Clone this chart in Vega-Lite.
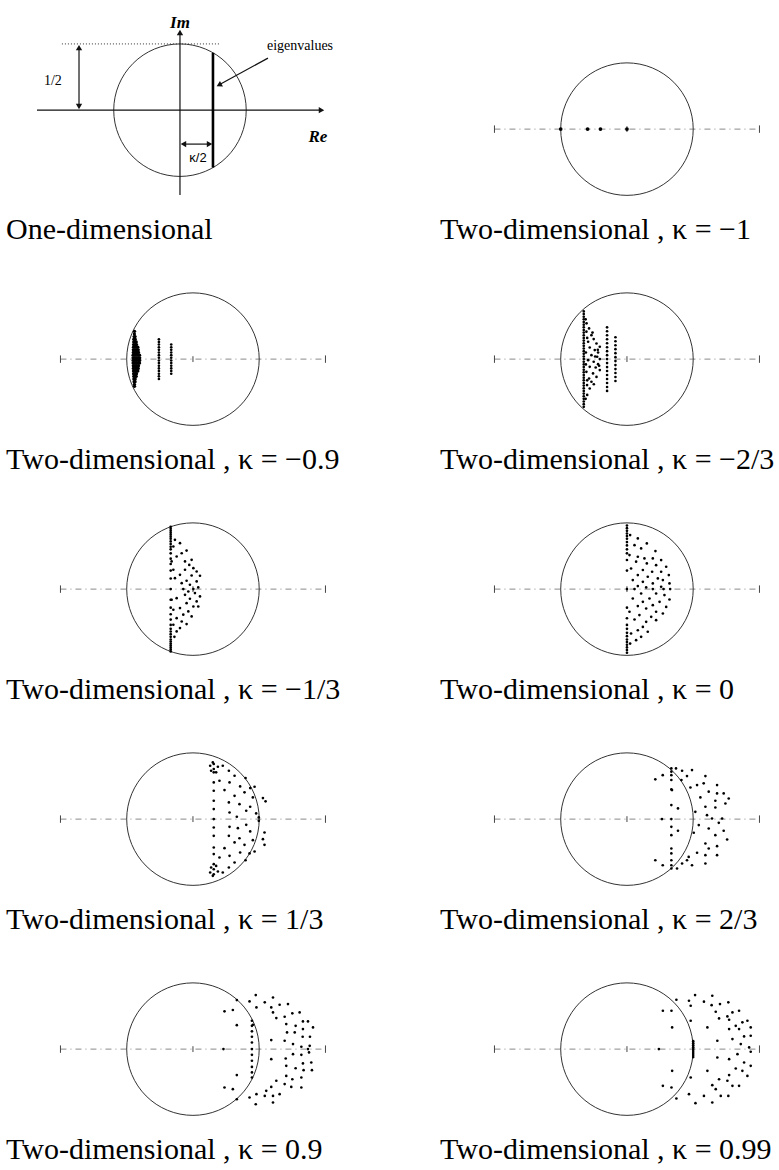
{
"$schema":"https://vega.github.io/schema/vega-lite/v6.json",
"padding":{"left":6,"top":14,"right":0,"bottom":0},
"background":"white",
"data":{"values":[
{"panel":"a","kind":"circle","x":-0.098,"y":0.143},
{"panel":"a","kind":"hsolid","x":-1.177,"x2":0.97,"y":0.143},
{"panel":"a","kind":"vsolid","x":-0.098,"y":-0.498,"y2":0.735},
{"panel":"a","kind":"hdot","x":-0.989,"x2":0.204,"y":0.643},
{"panel":"a","kind":"vsolid","x":-0.86,"y":0.165,"y2":0.62},
{"panel":"a","kind":"hsolid","x":-0.08,"x2":0.133,"y":-0.113},
{"panel":"a","kind":"vthick","x":0.151,"y":-0.29,"y2":0.576},
{"panel":"a","kind":"diag","x":0.566,"y":0.536,"x2":0.205,"y2":0.338},
{"panel":"a","kind":"head","dir":"up","x":-0.098,"y":0.73},
{"panel":"a","kind":"head","dir":"up","x":-0.86,"y":0.615},
{"panel":"a","kind":"head","dir":"down","x":-0.86,"y":0.171},
{"panel":"a","kind":"head","dir":"left","x":-0.072,"y":-0.113},
{"panel":"a","kind":"head","dir":"right","x":0.125,"y":-0.113},
{"panel":"a","kind":"head","dir":"right","x":0.97,"y":0.143},
{"panel":"a","kind":"headdiag","x":0.197,"y":0.333},
{"panel":"a","kind":"textbi","label":"Im","x":-0.098,"y":0.8},
{"panel":"a","kind":"textbi","label":"Re","x":0.943,"y":-0.06},
{"panel":"a","kind":"text","label":"1/2","x":-1.057,"y":0.362},
{"panel":"a","kind":"textsans","label":"κ/2","x":0.038,"y":-0.219},
{"panel":"a","kind":"text","label":"eigenvalues","x":0.808,"y":0.626},

{"panel":"b","kind":"circle","x":0,"y":0},{"panel":"b","kind":"axis","x":-1,"x2":1,"y":0},{"panel":"b","kind":"tick","x":-1,"y":-0.028,"y2":0.028},{"panel":"b","kind":"tick","x":1,"y":-0.028,"y2":0.028},{"panel":"b","kind":"tick","x":0,"y":-0.022,"y2":0.022},
{"panel":"c","kind":"circle","x":0,"y":0},{"panel":"c","kind":"axis","x":-1,"x2":1,"y":0},{"panel":"c","kind":"tick","x":-1,"y":-0.028,"y2":0.028},{"panel":"c","kind":"tick","x":1,"y":-0.028,"y2":0.028},{"panel":"c","kind":"tick","x":0,"y":-0.022,"y2":0.022},
{"panel":"d","kind":"circle","x":0,"y":0},{"panel":"d","kind":"axis","x":-1,"x2":1,"y":0},{"panel":"d","kind":"tick","x":-1,"y":-0.028,"y2":0.028},{"panel":"d","kind":"tick","x":1,"y":-0.028,"y2":0.028},{"panel":"d","kind":"tick","x":0,"y":-0.022,"y2":0.022},
{"panel":"e","kind":"circle","x":0,"y":0},{"panel":"e","kind":"axis","x":-1,"x2":1,"y":0},{"panel":"e","kind":"tick","x":-1,"y":-0.028,"y2":0.028},{"panel":"e","kind":"tick","x":1,"y":-0.028,"y2":0.028},{"panel":"e","kind":"tick","x":0,"y":-0.022,"y2":0.022},
{"panel":"f","kind":"circle","x":0,"y":0},{"panel":"f","kind":"axis","x":-1,"x2":1,"y":0},{"panel":"f","kind":"tick","x":-1,"y":-0.028,"y2":0.028},{"panel":"f","kind":"tick","x":1,"y":-0.028,"y2":0.028},{"panel":"f","kind":"tick","x":0,"y":-0.022,"y2":0.022},
{"panel":"g","kind":"circle","x":0,"y":0},{"panel":"g","kind":"axis","x":-1,"x2":1,"y":0},{"panel":"g","kind":"tick","x":-1,"y":-0.028,"y2":0.028},{"panel":"g","kind":"tick","x":1,"y":-0.028,"y2":0.028},{"panel":"g","kind":"tick","x":0,"y":-0.022,"y2":0.022},
{"panel":"h","kind":"circle","x":0,"y":0},{"panel":"h","kind":"axis","x":-1,"x2":1,"y":0},{"panel":"h","kind":"tick","x":-1,"y":-0.028,"y2":0.028},{"panel":"h","kind":"tick","x":1,"y":-0.028,"y2":0.028},{"panel":"h","kind":"tick","x":0,"y":-0.022,"y2":0.022},
{"panel":"i","kind":"circle","x":0,"y":0},{"panel":"i","kind":"axis","x":-1,"x2":1,"y":0},{"panel":"i","kind":"tick","x":-1,"y":-0.028,"y2":0.028},{"panel":"i","kind":"tick","x":1,"y":-0.028,"y2":0.028},{"panel":"i","kind":"tick","x":0,"y":-0.022,"y2":0.022},
{"panel":"j","kind":"circle","x":0,"y":0},{"panel":"j","kind":"axis","x":-1,"x2":1,"y":0},{"panel":"j","kind":"tick","x":-1,"y":-0.028,"y2":0.028},{"panel":"j","kind":"tick","x":1,"y":-0.028,"y2":0.028},{"panel":"j","kind":"tick","x":0,"y":-0.022,"y2":0.022},

{"panel":"b","kind":"bigpt","x":-0.5,"y":0},{"panel":"b","kind":"bigpt","x":-0.297,"y":0},{"panel":"b","kind":"bigpt","x":-0.2,"y":0},{"panel":"b","kind":"bigpt","x":0,"y":0},

{"panel":"c","kind":"blob","x":-0.452,"y":0.01},{"panel":"c","kind":"blob","x":-0.44,"y":0.01},{"panel":"c","kind":"blob","x":-0.427,"y":0.01},{"panel":"c","kind":"blob","x":-0.414,"y":0.01},{"panel":"c","kind":"blob","x":-0.402,"y":0.01},
{"panel":"c","kind":"blob","x":-0.452,"y":-0.01},{"panel":"c","kind":"blob","x":-0.44,"y":-0.01},{"panel":"c","kind":"blob","x":-0.427,"y":-0.01},{"panel":"c","kind":"blob","x":-0.414,"y":-0.01},{"panel":"c","kind":"blob","x":-0.402,"y":-0.01},
{"panel":"c","kind":"blob","x":-0.452,"y":0.03},{"panel":"c","kind":"blob","x":-0.44,"y":0.03},{"panel":"c","kind":"blob","x":-0.427,"y":0.03},{"panel":"c","kind":"blob","x":-0.414,"y":0.03},{"panel":"c","kind":"blob","x":-0.403,"y":0.03},
{"panel":"c","kind":"blob","x":-0.452,"y":-0.03},{"panel":"c","kind":"blob","x":-0.44,"y":-0.03},{"panel":"c","kind":"blob","x":-0.427,"y":-0.03},{"panel":"c","kind":"blob","x":-0.414,"y":-0.03},{"panel":"c","kind":"blob","x":-0.403,"y":-0.03},
{"panel":"c","kind":"blob","x":-0.45,"y":0.05},{"panel":"c","kind":"blob","x":-0.437,"y":0.05},{"panel":"c","kind":"blob","x":-0.424,"y":0.05},{"panel":"c","kind":"blob","x":-0.411,"y":0.05},
{"panel":"c","kind":"blob","x":-0.45,"y":-0.05},{"panel":"c","kind":"blob","x":-0.437,"y":-0.05},{"panel":"c","kind":"blob","x":-0.424,"y":-0.05},{"panel":"c","kind":"blob","x":-0.411,"y":-0.05},
{"panel":"c","kind":"blob","x":-0.45,"y":0.07},{"panel":"c","kind":"blob","x":-0.437,"y":0.07},{"panel":"c","kind":"blob","x":-0.424,"y":0.07},{"panel":"c","kind":"blob","x":-0.413,"y":0.07},
{"panel":"c","kind":"blob","x":-0.45,"y":-0.07},{"panel":"c","kind":"blob","x":-0.437,"y":-0.07},{"panel":"c","kind":"blob","x":-0.424,"y":-0.07},{"panel":"c","kind":"blob","x":-0.413,"y":-0.07},
{"panel":"c","kind":"blob","x":-0.449,"y":0.09},{"panel":"c","kind":"blob","x":-0.437,"y":0.09},{"panel":"c","kind":"blob","x":-0.425,"y":0.09},{"panel":"c","kind":"blob","x":-0.416,"y":0.09},
{"panel":"c","kind":"blob","x":-0.449,"y":-0.09},{"panel":"c","kind":"blob","x":-0.437,"y":-0.09},{"panel":"c","kind":"blob","x":-0.425,"y":-0.09},{"panel":"c","kind":"blob","x":-0.416,"y":-0.09},
{"panel":"c","kind":"blob","x":-0.448,"y":0.11},{"panel":"c","kind":"blob","x":-0.436,"y":0.11},{"panel":"c","kind":"blob","x":-0.426,"y":0.11},
{"panel":"c","kind":"blob","x":-0.448,"y":-0.11},{"panel":"c","kind":"blob","x":-0.436,"y":-0.11},{"panel":"c","kind":"blob","x":-0.426,"y":-0.11},
{"panel":"c","kind":"blob","x":-0.447,"y":0.13},{"panel":"c","kind":"blob","x":-0.436,"y":0.13},{"panel":"c","kind":"blob","x":-0.428,"y":0.13},
{"panel":"c","kind":"blob","x":-0.447,"y":-0.13},{"panel":"c","kind":"blob","x":-0.436,"y":-0.13},{"panel":"c","kind":"blob","x":-0.428,"y":-0.13},
{"panel":"c","kind":"blob","x":-0.446,"y":0.15},{"panel":"c","kind":"blob","x":-0.436,"y":0.15},
{"panel":"c","kind":"blob","x":-0.446,"y":-0.15},{"panel":"c","kind":"blob","x":-0.436,"y":-0.15},
{"panel":"c","kind":"blob","x":-0.444,"y":0.17},{"panel":"c","kind":"blob","x":-0.437,"y":0.17},
{"panel":"c","kind":"blob","x":-0.444,"y":-0.17},{"panel":"c","kind":"blob","x":-0.437,"y":-0.17},
{"panel":"c","kind":"blob","x":-0.442,"y":0.19},{"panel":"c","kind":"blob","x":-0.442,"y":-0.19},
{"panel":"c","kind":"blob","x":-0.441,"y":0.21},{"panel":"c","kind":"blob","x":-0.441,"y":-0.205},
{"panel":"c","kind":"pt","x":-0.257,"y":-0.15},{"panel":"c","kind":"pt","x":-0.257,"y":-0.13},{"panel":"c","kind":"pt","x":-0.257,"y":-0.11},{"panel":"c","kind":"pt","x":-0.257,"y":-0.09},{"panel":"c","kind":"pt","x":-0.257,"y":-0.07},{"panel":"c","kind":"pt","x":-0.257,"y":-0.05},{"panel":"c","kind":"pt","x":-0.257,"y":-0.03},{"panel":"c","kind":"pt","x":-0.257,"y":-0.01},{"panel":"c","kind":"pt","x":-0.257,"y":0.01},{"panel":"c","kind":"pt","x":-0.257,"y":0.03},{"panel":"c","kind":"pt","x":-0.257,"y":0.05},{"panel":"c","kind":"pt","x":-0.257,"y":0.07},{"panel":"c","kind":"pt","x":-0.257,"y":0.09},{"panel":"c","kind":"pt","x":-0.257,"y":0.11},{"panel":"c","kind":"pt","x":-0.257,"y":0.13},{"panel":"c","kind":"pt","x":-0.257,"y":0.15},
{"panel":"c","kind":"pt","x":-0.164,"y":-0.11},{"panel":"c","kind":"pt","x":-0.164,"y":-0.09},{"panel":"c","kind":"pt","x":-0.164,"y":-0.07},{"panel":"c","kind":"pt","x":-0.164,"y":-0.05},{"panel":"c","kind":"pt","x":-0.164,"y":-0.03},{"panel":"c","kind":"pt","x":-0.164,"y":-0.01},{"panel":"c","kind":"pt","x":-0.164,"y":0.01},{"panel":"c","kind":"pt","x":-0.164,"y":0.03},{"panel":"c","kind":"pt","x":-0.164,"y":0.05},{"panel":"c","kind":"pt","x":-0.164,"y":0.07},{"panel":"c","kind":"pt","x":-0.164,"y":0.09},{"panel":"c","kind":"pt","x":-0.164,"y":0.11},

{"panel":"d","kind":"pt","x":-0.326,"y":-0.36},{"panel":"d","kind":"pt","x":-0.326,"y":-0.34},{"panel":"d","kind":"pt","x":-0.326,"y":-0.32},{"panel":"d","kind":"pt","x":-0.326,"y":-0.3},{"panel":"d","kind":"pt","x":-0.326,"y":-0.28},{"panel":"d","kind":"pt","x":-0.326,"y":-0.26},{"panel":"d","kind":"pt","x":-0.326,"y":-0.24},{"panel":"d","kind":"pt","x":-0.326,"y":-0.22},{"panel":"d","kind":"pt","x":-0.326,"y":-0.2},{"panel":"d","kind":"pt","x":-0.326,"y":-0.18},{"panel":"d","kind":"pt","x":-0.326,"y":-0.16},{"panel":"d","kind":"pt","x":-0.326,"y":-0.14},{"panel":"d","kind":"pt","x":-0.326,"y":-0.12},{"panel":"d","kind":"pt","x":-0.326,"y":-0.1},{"panel":"d","kind":"pt","x":-0.326,"y":-0.08},{"panel":"d","kind":"pt","x":-0.326,"y":-0.06},{"panel":"d","kind":"pt","x":-0.326,"y":-0.04},{"panel":"d","kind":"pt","x":-0.326,"y":-0.02},{"panel":"d","kind":"pt","x":-0.326,"y":0},{"panel":"d","kind":"pt","x":-0.326,"y":0.02},{"panel":"d","kind":"pt","x":-0.326,"y":0.04},{"panel":"d","kind":"pt","x":-0.326,"y":0.06},{"panel":"d","kind":"pt","x":-0.326,"y":0.08},{"panel":"d","kind":"pt","x":-0.326,"y":0.1},{"panel":"d","kind":"pt","x":-0.326,"y":0.12},{"panel":"d","kind":"pt","x":-0.326,"y":0.14},{"panel":"d","kind":"pt","x":-0.326,"y":0.16},{"panel":"d","kind":"pt","x":-0.326,"y":0.18},{"panel":"d","kind":"pt","x":-0.326,"y":0.2},{"panel":"d","kind":"pt","x":-0.326,"y":0.22},{"panel":"d","kind":"pt","x":-0.326,"y":0.24},{"panel":"d","kind":"pt","x":-0.326,"y":0.26},{"panel":"d","kind":"pt","x":-0.326,"y":0.28},{"panel":"d","kind":"pt","x":-0.326,"y":0.3},{"panel":"d","kind":"pt","x":-0.326,"y":0.32},{"panel":"d","kind":"pt","x":-0.326,"y":0.34},{"panel":"d","kind":"pt","x":-0.326,"y":0.36},
{"panel":"d","kind":"pt","x":-0.286,"y":0.232},{"panel":"d","kind":"pt","x":-0.306,"y":0.207},{"panel":"d","kind":"pt","x":-0.268,"y":0.181},{"panel":"d","kind":"pt","x":-0.251,"y":0.151},{"panel":"d","kind":"pt","x":-0.293,"y":0.131},{"panel":"d","kind":"pt","x":-0.23,"y":0.118},{"panel":"d","kind":"pt","x":-0.205,"y":0.093},{"panel":"d","kind":"pt","x":-0.281,"y":0.088},{"panel":"d","kind":"pt","x":-0.243,"y":0.068},{"panel":"d","kind":"pt","x":-0.218,"y":0.05},{"panel":"d","kind":"pt","x":-0.268,"y":0.03},{"panel":"d","kind":"pt","x":-0.225,"y":0.018},{"panel":"d","kind":"pt","x":-0.205,"y":0},{"panel":"d","kind":"pt","x":-0.293,"y":-0.008},{"panel":"d","kind":"pt","x":-0.251,"y":-0.02},{"panel":"d","kind":"pt","x":-0.218,"y":-0.038},{"panel":"d","kind":"pt","x":-0.281,"y":-0.058},{"panel":"d","kind":"pt","x":-0.236,"y":-0.063},{"panel":"d","kind":"pt","x":-0.205,"y":-0.083},{"panel":"d","kind":"pt","x":-0.306,"y":-0.096},{"panel":"d","kind":"pt","x":-0.256,"y":-0.108},{"panel":"d","kind":"pt","x":-0.23,"y":-0.134},{"panel":"d","kind":"pt","x":-0.286,"y":-0.146},{"panel":"d","kind":"pt","x":-0.268,"y":-0.171},{"panel":"d","kind":"pt","x":-0.301,"y":-0.196},{"panel":"d","kind":"pt","x":-0.281,"y":-0.222},
{"panel":"d","kind":"pt","x":-0.3,"y":0.16},{"panel":"d","kind":"pt","x":-0.31,"y":0.05},{"panel":"d","kind":"pt","x":-0.31,"y":-0.04},{"panel":"d","kind":"pt","x":-0.3,"y":-0.16},{"panel":"d","kind":"pt","x":-0.26,"y":0.2},{"panel":"d","kind":"pt","x":-0.25,"y":-0.19},{"panel":"d","kind":"pt","x":-0.24,"y":0.02},{"panel":"d","kind":"pt","x":-0.22,"y":0.07},{"panel":"d","kind":"pt","x":-0.21,"y":-0.05},{"panel":"d","kind":"pt","x":-0.305,"y":0.27},{"panel":"d","kind":"pt","x":-0.3,"y":-0.27},{"panel":"d","kind":"pt","x":-0.312,"y":0.3},{"panel":"d","kind":"pt","x":-0.312,"y":-0.3},
{"panel":"d","kind":"pt","x":-0.15,"y":-0.24},{"panel":"d","kind":"pt","x":-0.15,"y":-0.21},{"panel":"d","kind":"pt","x":-0.15,"y":-0.18},{"panel":"d","kind":"pt","x":-0.15,"y":-0.15},{"panel":"d","kind":"pt","x":-0.15,"y":-0.12},{"panel":"d","kind":"pt","x":-0.15,"y":-0.09},{"panel":"d","kind":"pt","x":-0.15,"y":-0.06},{"panel":"d","kind":"pt","x":-0.15,"y":-0.03},{"panel":"d","kind":"pt","x":-0.15,"y":0},{"panel":"d","kind":"pt","x":-0.15,"y":0.03},{"panel":"d","kind":"pt","x":-0.15,"y":0.06},{"panel":"d","kind":"pt","x":-0.15,"y":0.09},{"panel":"d","kind":"pt","x":-0.15,"y":0.12},{"panel":"d","kind":"pt","x":-0.15,"y":0.15},{"panel":"d","kind":"pt","x":-0.15,"y":0.18},{"panel":"d","kind":"pt","x":-0.15,"y":0.21},{"panel":"d","kind":"pt","x":-0.15,"y":0.24},
{"panel":"d","kind":"pt","x":-0.087,"y":-0.165},{"panel":"d","kind":"pt","x":-0.087,"y":-0.135},{"panel":"d","kind":"pt","x":-0.087,"y":-0.105},{"panel":"d","kind":"pt","x":-0.087,"y":-0.075},{"panel":"d","kind":"pt","x":-0.087,"y":-0.045},{"panel":"d","kind":"pt","x":-0.087,"y":-0.015},{"panel":"d","kind":"pt","x":-0.087,"y":0.015},{"panel":"d","kind":"pt","x":-0.087,"y":0.045},{"panel":"d","kind":"pt","x":-0.087,"y":0.075},{"panel":"d","kind":"pt","x":-0.087,"y":0.105},{"panel":"d","kind":"pt","x":-0.087,"y":0.135},{"panel":"d","kind":"pt","x":-0.087,"y":0.165},

{"panel":"e","kind":"pt","x":-0.168,"y":0.47},{"panel":"e","kind":"pt","x":-0.168,"y":0.455},{"panel":"e","kind":"pt","x":-0.168,"y":0.44},{"panel":"e","kind":"pt","x":-0.168,"y":0.425},{"panel":"e","kind":"pt","x":-0.168,"y":0.41},{"panel":"e","kind":"pt","x":-0.168,"y":0.395},{"panel":"e","kind":"pt","x":-0.168,"y":0.38},{"panel":"e","kind":"pt","x":-0.168,"y":0.36},{"panel":"e","kind":"pt","x":-0.168,"y":0.34},{"panel":"e","kind":"pt","x":-0.168,"y":0.32},{"panel":"e","kind":"pt","x":-0.168,"y":0.3},{"panel":"e","kind":"pt","x":-0.168,"y":0.27},{"panel":"e","kind":"pt","x":-0.168,"y":0.23},{"panel":"e","kind":"pt","x":-0.168,"y":0.19},{"panel":"e","kind":"pt","x":-0.168,"y":0.14},{"panel":"e","kind":"pt","x":-0.168,"y":0.08},{"panel":"e","kind":"pt","x":-0.168,"y":0},
{"panel":"e","kind":"pt","x":-0.168,"y":-0.47},{"panel":"e","kind":"pt","x":-0.168,"y":-0.455},{"panel":"e","kind":"pt","x":-0.168,"y":-0.44},{"panel":"e","kind":"pt","x":-0.168,"y":-0.425},{"panel":"e","kind":"pt","x":-0.168,"y":-0.41},{"panel":"e","kind":"pt","x":-0.168,"y":-0.395},{"panel":"e","kind":"pt","x":-0.168,"y":-0.38},{"panel":"e","kind":"pt","x":-0.168,"y":-0.36},{"panel":"e","kind":"pt","x":-0.168,"y":-0.34},{"panel":"e","kind":"pt","x":-0.168,"y":-0.32},{"panel":"e","kind":"pt","x":-0.168,"y":-0.3},{"panel":"e","kind":"pt","x":-0.168,"y":-0.27},{"panel":"e","kind":"pt","x":-0.168,"y":-0.23},{"panel":"e","kind":"pt","x":-0.168,"y":-0.19},{"panel":"e","kind":"pt","x":-0.168,"y":-0.14},{"panel":"e","kind":"pt","x":-0.168,"y":-0.08},
{"panel":"e","kind":"pt","x":-0.098,"y":0.347},{"panel":"e","kind":"pt","x":-0.148,"y":0.322},{"panel":"e","kind":"pt","x":-0.048,"y":0.291},{"panel":"e","kind":"pt","x":-0.085,"y":0.271},{"panel":"e","kind":"pt","x":-0.123,"y":0.246},{"panel":"e","kind":"pt","x":-0.01,"y":0.221},{"panel":"e","kind":"pt","x":-0.161,"y":0.209},{"panel":"e","kind":"pt","x":-0.06,"y":0.209},{"panel":"e","kind":"pt","x":-0.028,"y":0.183},{"panel":"e","kind":"pt","x":0.003,"y":0.158},{"panel":"e","kind":"pt","x":-0.148,"y":0.146},{"panel":"e","kind":"pt","x":-0.06,"y":0.146},{"panel":"e","kind":"pt","x":0.028,"y":0.133},{"panel":"e","kind":"pt","x":-0.098,"y":0.108},{"panel":"e","kind":"pt","x":-0.01,"y":0.103},{"panel":"e","kind":"pt","x":0.053,"y":0.101},{"panel":"e","kind":"pt","x":-0.136,"y":0.083},{"panel":"e","kind":"pt","x":-0.048,"y":0.063},{"panel":"e","kind":"pt","x":0.028,"y":0.058},{"panel":"e","kind":"pt","x":-0.085,"y":0.045},{"panel":"e","kind":"pt","x":-0.023,"y":0.033},{"panel":"e","kind":"pt","x":0.04,"y":0.013},{"panel":"e","kind":"pt","x":-0.073,"y":0},{"panel":"e","kind":"pt","x":0.003,"y":0},{"panel":"e","kind":"pt","x":-0.035,"y":-0.018},{"panel":"e","kind":"pt","x":0.015,"y":-0.03},{"panel":"e","kind":"pt","x":-0.06,"y":-0.043},{"panel":"e","kind":"pt","x":0.053,"y":-0.055},{"panel":"e","kind":"pt","x":-0.123,"y":-0.068},{"panel":"e","kind":"pt","x":-0.023,"y":-0.073},{"panel":"e","kind":"pt","x":0.028,"y":-0.093},{"panel":"e","kind":"pt","x":-0.161,"y":-0.08},{"panel":"e","kind":"pt","x":-0.048,"y":-0.106},{"panel":"e","kind":"pt","x":0.003,"y":-0.131},{"panel":"e","kind":"pt","x":-0.098,"y":-0.143},{"panel":"e","kind":"pt","x":0.04,"y":-0.131},{"panel":"e","kind":"pt","x":-0.148,"y":-0.156},{"panel":"e","kind":"pt","x":-0.035,"y":-0.168},{"panel":"e","kind":"pt","x":-0.073,"y":-0.193},{"panel":"e","kind":"pt","x":-0.01,"y":-0.206},{"panel":"e","kind":"pt","x":-0.123,"y":-0.219},{"panel":"e","kind":"pt","x":-0.085,"y":-0.244},{"panel":"e","kind":"pt","x":-0.048,"y":-0.264},{"panel":"e","kind":"pt","x":-0.148,"y":-0.269},{"panel":"e","kind":"pt","x":-0.098,"y":-0.294},{"panel":"e","kind":"pt","x":-0.123,"y":-0.319},{"panel":"e","kind":"pt","x":-0.136,"y":0.372},{"panel":"e","kind":"pt","x":-0.14,"y":-0.36},

{"panel":"f","kind":"pt","x":0,"y":0.48},{"panel":"f","kind":"pt","x":0,"y":0.46},{"panel":"f","kind":"pt","x":0,"y":0.44},{"panel":"f","kind":"pt","x":0,"y":0.42},{"panel":"f","kind":"pt","x":0,"y":0.4},{"panel":"f","kind":"pt","x":0,"y":0.38},{"panel":"f","kind":"pt","x":0,"y":0.355},{"panel":"f","kind":"pt","x":0,"y":0.33},{"panel":"f","kind":"pt","x":0,"y":0.3},{"panel":"f","kind":"pt","x":0,"y":0.27},{"panel":"f","kind":"pt","x":0,"y":0.22},{"panel":"f","kind":"pt","x":0,"y":0.14},{"panel":"f","kind":"pt","x":0,"y":0},
{"panel":"f","kind":"pt","x":0,"y":-0.48},{"panel":"f","kind":"pt","x":0,"y":-0.46},{"panel":"f","kind":"pt","x":0,"y":-0.44},{"panel":"f","kind":"pt","x":0,"y":-0.42},{"panel":"f","kind":"pt","x":0,"y":-0.4},{"panel":"f","kind":"pt","x":0,"y":-0.38},{"panel":"f","kind":"pt","x":0,"y":-0.355},{"panel":"f","kind":"pt","x":0,"y":-0.33},{"panel":"f","kind":"pt","x":0,"y":-0.3},{"panel":"f","kind":"pt","x":0,"y":-0.27},{"panel":"f","kind":"pt","x":0,"y":-0.22},{"panel":"f","kind":"pt","x":0,"y":-0.14},
{"panel":"f","kind":"pt","x":0.024,"y":0.408},{"panel":"f","kind":"pt","x":0.082,"y":0.383},{"panel":"f","kind":"pt","x":0.15,"y":0.345},{"panel":"f","kind":"pt","x":0.057,"y":0.332},{"panel":"f","kind":"pt","x":0.107,"y":0.307},{"panel":"f","kind":"pt","x":0.215,"y":0.287},{"panel":"f","kind":"pt","x":0.019,"y":0.257},{"panel":"f","kind":"pt","x":0.082,"y":0.244},{"panel":"f","kind":"pt","x":0.132,"y":0.232},{"panel":"f","kind":"pt","x":0.195,"y":0.232},{"panel":"f","kind":"pt","x":0.258,"y":0.219},{"panel":"f","kind":"pt","x":0.069,"y":0.207},{"panel":"f","kind":"pt","x":0.15,"y":0.194},{"panel":"f","kind":"pt","x":0.22,"y":0.181},{"panel":"f","kind":"pt","x":0.031,"y":0.156},{"panel":"f","kind":"pt","x":0.12,"y":0.144},{"panel":"f","kind":"pt","x":0.296,"y":0.169},{"panel":"f","kind":"pt","x":0.19,"y":0.131},{"panel":"f","kind":"pt","x":0.258,"y":0.131},{"panel":"f","kind":"pt","x":0.082,"y":0.106},{"panel":"f","kind":"pt","x":0.316,"y":0.106},{"panel":"f","kind":"pt","x":0.157,"y":0.093},{"panel":"f","kind":"pt","x":0.233,"y":0.081},{"panel":"f","kind":"pt","x":0.044,"y":0.068},{"panel":"f","kind":"pt","x":0.271,"y":0.068},{"panel":"f","kind":"pt","x":0.12,"y":0.055},{"panel":"f","kind":"pt","x":0.195,"y":0.043},{"panel":"f","kind":"pt","x":0.321,"y":0.043},{"panel":"f","kind":"pt","x":0.082,"y":0.023},{"panel":"f","kind":"pt","x":0.258,"y":0.018},{"panel":"f","kind":"pt","x":0.145,"y":0.013},{"panel":"f","kind":"pt","x":0.057,"y":0},{"panel":"f","kind":"pt","x":0.195,"y":0},{"panel":"f","kind":"pt","x":0.276,"y":0},{"panel":"f","kind":"pt","x":0.326,"y":0},{"panel":"f","kind":"pt","x":0.107,"y":-0.033},{"panel":"f","kind":"pt","x":0.22,"y":-0.033},{"panel":"f","kind":"pt","x":0.283,"y":-0.045},{"panel":"f","kind":"pt","x":0.044,"y":-0.071},{"panel":"f","kind":"pt","x":0.17,"y":-0.071},{"panel":"f","kind":"pt","x":0.321,"y":-0.078},{"panel":"f","kind":"pt","x":0.12,"y":-0.096},{"panel":"f","kind":"pt","x":0.246,"y":-0.096},{"panel":"f","kind":"pt","x":0.195,"y":-0.121},{"panel":"f","kind":"pt","x":0.082,"y":-0.128},{"panel":"f","kind":"pt","x":0.296,"y":-0.134},{"panel":"f","kind":"pt","x":0.145,"y":-0.146},{"panel":"f","kind":"pt","x":0.22,"y":-0.171},{"panel":"f","kind":"pt","x":0.019,"y":-0.171},{"panel":"f","kind":"pt","x":0.271,"y":-0.184},{"panel":"f","kind":"pt","x":0.094,"y":-0.196},{"panel":"f","kind":"pt","x":0.183,"y":-0.209},{"panel":"f","kind":"pt","x":0.057,"y":-0.229},{"panel":"f","kind":"pt","x":0.145,"y":-0.247},{"panel":"f","kind":"pt","x":0.22,"y":-0.234},{"panel":"f","kind":"pt","x":0.12,"y":-0.285},{"panel":"f","kind":"pt","x":0.082,"y":-0.31},{"panel":"f","kind":"pt","x":0.157,"y":-0.322},{"panel":"f","kind":"pt","x":0.031,"y":-0.335},{"panel":"f","kind":"pt","x":0.107,"y":-0.36},{"panel":"f","kind":"pt","x":0.069,"y":-0.385},{"panel":"f","kind":"pt","x":0.024,"y":-0.411},

{"panel":"g","kind":"pt","x":0.157,"y":0.416},{"panel":"g","kind":"pt","x":0.157,"y":0.378},{"panel":"g","kind":"pt","x":0.157,"y":0.353},{"panel":"g","kind":"pt","x":0.157,"y":0.277},{"panel":"g","kind":"pt","x":0.157,"y":0.214},{"panel":"g","kind":"pt","x":0.157,"y":0.139},{"panel":"g","kind":"pt","x":0.157,"y":0.076},{"panel":"g","kind":"pt","x":0.157,"y":0},{"panel":"g","kind":"pt","x":0.157,"y":-0.063},{"panel":"g","kind":"pt","x":0.157,"y":-0.126},{"panel":"g","kind":"pt","x":0.157,"y":-0.214},{"panel":"g","kind":"pt","x":0.157,"y":-0.264},{"panel":"g","kind":"pt","x":0.157,"y":-0.34},{"panel":"g","kind":"pt","x":0.157,"y":-0.378},{"panel":"g","kind":"pt","x":0.157,"y":-0.416},
{"panel":"g","kind":"pt","x":0.13,"y":0.403},{"panel":"g","kind":"pt","x":0.188,"y":0.395},{"panel":"g","kind":"pt","x":0.137,"y":0.365},{"panel":"g","kind":"pt","x":0.175,"y":0.353},{"panel":"g","kind":"pt","x":0.15,"y":0.428},{"panel":"g","kind":"pt","x":0.13,"y":-0.403},{"panel":"g","kind":"pt","x":0.188,"y":-0.395},{"panel":"g","kind":"pt","x":0.137,"y":-0.365},{"panel":"g","kind":"pt","x":0.175,"y":-0.353},{"panel":"g","kind":"pt","x":0.15,"y":-0.428},
{"panel":"g","kind":"pt","x":0.225,"y":0.403},{"panel":"g","kind":"pt","x":0.271,"y":0.365},{"panel":"g","kind":"pt","x":0.314,"y":0.327},{"panel":"g","kind":"pt","x":0.397,"y":0.31},{"panel":"g","kind":"pt","x":0.2,"y":0.29},{"panel":"g","kind":"pt","x":0.276,"y":0.277},{"panel":"g","kind":"pt","x":0.356,"y":0.247},{"panel":"g","kind":"pt","x":0.432,"y":0.234},{"panel":"g","kind":"pt","x":0.465,"y":0.244},{"panel":"g","kind":"pt","x":0.238,"y":0.219},{"panel":"g","kind":"pt","x":0.389,"y":0.202},{"panel":"g","kind":"pt","x":0.314,"y":0.176},{"panel":"g","kind":"pt","x":0.452,"y":0.164},{"panel":"g","kind":"pt","x":0.528,"y":0.159},{"panel":"g","kind":"pt","x":0.271,"y":0.126},{"panel":"g","kind":"pt","x":0.548,"y":0.134},{"panel":"g","kind":"pt","x":0.351,"y":0.113},{"panel":"g","kind":"pt","x":0.432,"y":0.093},{"panel":"g","kind":"pt","x":0.402,"y":0.063},{"panel":"g","kind":"pt","x":0.276,"y":0.05},{"panel":"g","kind":"pt","x":0.477,"y":0.043},{"panel":"g","kind":"pt","x":0.497,"y":0.013},{"panel":"g","kind":"pt","x":0.331,"y":0.018},{"panel":"g","kind":"pt","x":0.497,"y":-0.013},{"panel":"g","kind":"pt","x":0.402,"y":-0.043},{"panel":"g","kind":"pt","x":0.276,"y":-0.058},{"panel":"g","kind":"pt","x":0.339,"y":-0.068},{"panel":"g","kind":"pt","x":0.432,"y":-0.093},{"panel":"g","kind":"pt","x":0.54,"y":-0.101},{"panel":"g","kind":"pt","x":0.271,"y":-0.126},{"panel":"g","kind":"pt","x":0.351,"y":-0.144},{"panel":"g","kind":"pt","x":0.452,"y":-0.159},{"panel":"g","kind":"pt","x":0.528,"y":-0.151},{"panel":"g","kind":"pt","x":0.314,"y":-0.176},{"panel":"g","kind":"pt","x":0.389,"y":-0.194},{"panel":"g","kind":"pt","x":0.54,"y":-0.194},{"panel":"g","kind":"pt","x":0.238,"y":-0.219},{"panel":"g","kind":"pt","x":0.465,"y":-0.244},{"panel":"g","kind":"pt","x":0.356,"y":-0.252},{"panel":"g","kind":"pt","x":0.276,"y":-0.277},{"panel":"g","kind":"pt","x":0.397,"y":-0.31},{"panel":"g","kind":"pt","x":0.2,"y":-0.29},{"panel":"g","kind":"pt","x":0.314,"y":-0.327},{"panel":"g","kind":"pt","x":0.271,"y":-0.365},{"panel":"g","kind":"pt","x":0.225,"y":-0.403},{"panel":"g","kind":"pt","x":0.427,"y":-0.259},

{"panel":"h","kind":"pt","x":0.335,"y":0.383},{"panel":"h","kind":"pt","x":0.335,"y":0.358},{"panel":"h","kind":"pt","x":0.335,"y":0.332},{"panel":"h","kind":"pt","x":0.335,"y":0.295},{"panel":"h","kind":"pt","x":0.335,"y":0.224},{"panel":"h","kind":"pt","x":0.335,"y":0.106},{"panel":"h","kind":"pt","x":0.335,"y":0},{"panel":"h","kind":"pt","x":0.335,"y":-0.058},{"panel":"h","kind":"pt","x":0.335,"y":-0.121},{"panel":"h","kind":"pt","x":0.335,"y":-0.222},{"panel":"h","kind":"pt","x":0.335,"y":-0.259},{"panel":"h","kind":"pt","x":0.335,"y":-0.31},{"panel":"h","kind":"pt","x":0.335,"y":-0.348},{"panel":"h","kind":"pt","x":0.335,"y":-0.373},
{"panel":"h","kind":"pt","x":0.214,"y":0.3},{"panel":"h","kind":"pt","x":0.27,"y":0.332},{"panel":"h","kind":"pt","x":0.385,"y":0.081},{"panel":"h","kind":"pt","x":0.385,"y":-0.088},{"panel":"h","kind":"pt","x":0.214,"y":-0.31},{"panel":"h","kind":"pt","x":0.27,"y":-0.348},{"panel":"h","kind":"pt","x":0.264,"y":0},{"panel":"h","kind":"pt","x":0.34,"y":0.219},
{"panel":"h","kind":"pt","x":0.37,"y":0.383},{"panel":"h","kind":"pt","x":0.416,"y":0.365},{"panel":"h","kind":"pt","x":0.453,"y":0.325},{"panel":"h","kind":"pt","x":0.491,"y":0.37},{"panel":"h","kind":"pt","x":0.592,"y":0.325},{"panel":"h","kind":"pt","x":0.529,"y":0.257},{"panel":"h","kind":"pt","x":0.579,"y":0.27},{"panel":"h","kind":"pt","x":0.68,"y":0.257},{"panel":"h","kind":"pt","x":0.617,"y":0.207},{"panel":"h","kind":"pt","x":0.68,"y":0.194},{"panel":"h","kind":"pt","x":0.73,"y":0.194},{"panel":"h","kind":"pt","x":0.554,"y":0.164},{"panel":"h","kind":"pt","x":0.768,"y":0.156},{"panel":"h","kind":"pt","x":0.667,"y":0.139},{"panel":"h","kind":"pt","x":0.743,"y":0.118},{"panel":"h","kind":"pt","x":0.592,"y":0.093},{"panel":"h","kind":"pt","x":0.667,"y":0.088},{"panel":"h","kind":"pt","x":0.516,"y":0.055},{"panel":"h","kind":"pt","x":0.604,"y":0.03},{"panel":"h","kind":"pt","x":0.642,"y":0.005},{"panel":"h","kind":"pt","x":0.718,"y":0.005},{"panel":"h","kind":"pt","x":0.693,"y":-0.028},{"panel":"h","kind":"pt","x":0.542,"y":-0.045},{"panel":"h","kind":"pt","x":0.617,"y":-0.071},{"panel":"h","kind":"pt","x":0.73,"y":-0.088},{"panel":"h","kind":"pt","x":0.504,"y":-0.103},{"panel":"h","kind":"pt","x":0.667,"y":-0.121},{"panel":"h","kind":"pt","x":0.756,"y":-0.154},{"panel":"h","kind":"pt","x":0.592,"y":-0.184},{"panel":"h","kind":"pt","x":0.68,"y":-0.204},{"panel":"h","kind":"pt","x":0.617,"y":-0.222},{"panel":"h","kind":"pt","x":0.529,"y":-0.254},{"panel":"h","kind":"pt","x":0.592,"y":-0.272},{"panel":"h","kind":"pt","x":0.68,"y":-0.272},{"panel":"h","kind":"pt","x":0.466,"y":-0.285},{"panel":"h","kind":"pt","x":0.416,"y":-0.335},{"panel":"h","kind":"pt","x":0.491,"y":-0.348},{"panel":"h","kind":"pt","x":0.592,"y":-0.335},{"panel":"h","kind":"pt","x":0.378,"y":-0.373},{"panel":"h","kind":"pt","x":0.453,"y":-0.31},{"panel":"h","kind":"pt","x":0.411,"y":0.295},{"panel":"h","kind":"pt","x":0.479,"y":0.239},

{"panel":"i","kind":"pt","x":0.445,"y":0.214},{"panel":"i","kind":"pt","x":0.445,"y":0.176},{"panel":"i","kind":"pt","x":0.445,"y":0.134},{"panel":"i","kind":"pt","x":0.445,"y":0.093},{"panel":"i","kind":"pt","x":0.445,"y":0.05},{"panel":"i","kind":"pt","x":0.445,"y":0},{"panel":"i","kind":"pt","x":0.445,"y":-0.043},{"panel":"i","kind":"pt","x":0.445,"y":-0.088},{"panel":"i","kind":"pt","x":0.445,"y":-0.134},{"panel":"i","kind":"pt","x":0.445,"y":-0.176},{"panel":"i","kind":"pt","x":0.445,"y":-0.214},
{"panel":"i","kind":"pt","x":0.238,"y":0.285},{"panel":"i","kind":"pt","x":0.301,"y":0.295},{"panel":"i","kind":"pt","x":0.331,"y":0.181},{"panel":"i","kind":"pt","x":0.23,"y":0},{"panel":"i","kind":"pt","x":0.331,"y":-0.196},{"panel":"i","kind":"pt","x":0.238,"y":-0.29},{"panel":"i","kind":"pt","x":0.301,"y":-0.302},{"panel":"i","kind":"pt","x":0.331,"y":0.37},{"panel":"i","kind":"pt","x":0.331,"y":-0.378},
{"panel":"i","kind":"pt","x":0.427,"y":0.36},{"panel":"i","kind":"pt","x":0.474,"y":0.408},{"panel":"i","kind":"pt","x":0.479,"y":0.315},{"panel":"i","kind":"pt","x":0.542,"y":0.353},{"panel":"i","kind":"pt","x":0.604,"y":0.39},{"panel":"i","kind":"pt","x":0.591,"y":0.315},{"panel":"i","kind":"pt","x":0.654,"y":0.335},{"panel":"i","kind":"pt","x":0.717,"y":0.34},{"panel":"i","kind":"pt","x":0.604,"y":0.277},{"panel":"i","kind":"pt","x":0.629,"y":0.234},{"panel":"i","kind":"pt","x":0.692,"y":0.244},{"panel":"i","kind":"pt","x":0.75,"y":0.27},{"panel":"i","kind":"pt","x":0.805,"y":0.277},{"panel":"i","kind":"pt","x":0.453,"y":0.184},{"panel":"i","kind":"pt","x":0.704,"y":0.189},{"panel":"i","kind":"pt","x":0.775,"y":0.176},{"panel":"i","kind":"pt","x":0.83,"y":0.209},{"panel":"i","kind":"pt","x":0.868,"y":0.209},{"panel":"i","kind":"pt","x":0.71,"y":0.126},{"panel":"i","kind":"pt","x":0.768,"y":0.126},{"panel":"i","kind":"pt","x":0.83,"y":0.151},{"panel":"i","kind":"pt","x":0.906,"y":0.164},{"panel":"i","kind":"pt","x":0.828,"y":0.093},{"panel":"i","kind":"pt","x":0.883,"y":0.093},{"panel":"i","kind":"pt","x":0.591,"y":0.068},{"panel":"i","kind":"pt","x":0.692,"y":0.063},{"panel":"i","kind":"pt","x":0.755,"y":0.038},{"panel":"i","kind":"pt","x":0.818,"y":0.018},{"panel":"i","kind":"pt","x":0.868,"y":0},{"panel":"i","kind":"pt","x":0.881,"y":0.025},{"panel":"i","kind":"pt","x":0.876,"y":-0.025},{"panel":"i","kind":"pt","x":0.591,"y":-0.076},{"panel":"i","kind":"pt","x":0.755,"y":-0.038},{"panel":"i","kind":"pt","x":0.7,"y":-0.071},{"panel":"i","kind":"pt","x":0.818,"y":-0.043},{"panel":"i","kind":"pt","x":0.83,"y":-0.108},{"panel":"i","kind":"pt","x":0.893,"y":-0.101},{"panel":"i","kind":"pt","x":0.704,"y":-0.126},{"panel":"i","kind":"pt","x":0.775,"y":-0.144},{"panel":"i","kind":"pt","x":0.835,"y":-0.159},{"panel":"i","kind":"pt","x":0.898,"y":-0.159},{"panel":"i","kind":"pt","x":0.704,"y":-0.202},{"panel":"i","kind":"pt","x":0.75,"y":-0.227},{"panel":"i","kind":"pt","x":0.818,"y":-0.214},{"panel":"i","kind":"pt","x":0.629,"y":-0.239},{"panel":"i","kind":"pt","x":0.692,"y":-0.264},{"panel":"i","kind":"pt","x":0.742,"y":-0.285},{"panel":"i","kind":"pt","x":0.591,"y":-0.285},{"panel":"i","kind":"pt","x":0.654,"y":-0.34},{"panel":"i","kind":"pt","x":0.604,"y":-0.353},{"panel":"i","kind":"pt","x":0.553,"y":-0.315},{"panel":"i","kind":"pt","x":0.542,"y":-0.353},{"panel":"i","kind":"pt","x":0.479,"y":-0.34},{"panel":"i","kind":"pt","x":0.427,"y":-0.365},{"panel":"i","kind":"pt","x":0.474,"y":-0.416},{"panel":"i","kind":"pt","x":0.604,"y":-0.403},{"panel":"i","kind":"pt","x":0.818,"y":-0.29},

{"panel":"j","kind":"pt","x":0.5,"y":0.06},{"panel":"j","kind":"pt","x":0.5,"y":0.045},{"panel":"j","kind":"pt","x":0.5,"y":0.03},{"panel":"j","kind":"pt","x":0.5,"y":0.015},{"panel":"j","kind":"pt","x":0.5,"y":0},{"panel":"j","kind":"pt","x":0.5,"y":-0.015},{"panel":"j","kind":"pt","x":0.5,"y":-0.03},{"panel":"j","kind":"pt","x":0.5,"y":-0.045},{"panel":"j","kind":"pt","x":0.5,"y":-0.06},{"panel":"j","kind":"pt","x":0.241,"y":0},
{"panel":"j","kind":"pt","x":0.341,"y":0.164},{"panel":"j","kind":"pt","x":0.341,"y":-0.164},{"panel":"j","kind":"pt","x":0.271,"y":0.29},{"panel":"j","kind":"pt","x":0.336,"y":0.29},{"panel":"j","kind":"pt","x":0.271,"y":-0.277},{"panel":"j","kind":"pt","x":0.336,"y":-0.29},{"panel":"j","kind":"pt","x":0.373,"y":0.373},{"panel":"j","kind":"pt","x":0.373,"y":-0.373},{"panel":"j","kind":"pt","x":0.481,"y":0.214},{"panel":"j","kind":"pt","x":0.481,"y":-0.214},
{"panel":"j","kind":"pt","x":0.468,"y":0.365},{"panel":"j","kind":"pt","x":0.514,"y":0.408},{"panel":"j","kind":"pt","x":0.481,"y":0.327},{"panel":"j","kind":"pt","x":0.581,"y":0.358},{"panel":"j","kind":"pt","x":0.644,"y":0.403},{"panel":"j","kind":"pt","x":0.639,"y":0.332},{"panel":"j","kind":"pt","x":0.702,"y":0.34},{"panel":"j","kind":"pt","x":0.765,"y":0.353},{"panel":"j","kind":"pt","x":0.67,"y":0.282},{"panel":"j","kind":"pt","x":0.695,"y":0.232},{"panel":"j","kind":"pt","x":0.758,"y":0.247},{"panel":"j","kind":"pt","x":0.796,"y":0.277},{"panel":"j","kind":"pt","x":0.846,"y":0.29},{"panel":"j","kind":"pt","x":0.607,"y":0.164},{"panel":"j","kind":"pt","x":0.771,"y":0.222},{"panel":"j","kind":"pt","x":0.821,"y":0.176},{"panel":"j","kind":"pt","x":0.871,"y":0.202},{"panel":"j","kind":"pt","x":0.909,"y":0.214},{"panel":"j","kind":"pt","x":0.771,"y":0.151},{"panel":"j","kind":"pt","x":0.846,"y":0.151},{"panel":"j","kind":"pt","x":0.934,"y":0.164},{"panel":"j","kind":"pt","x":0.884,"y":0.096},{"panel":"j","kind":"pt","x":0.934,"y":0.101},{"panel":"j","kind":"pt","x":0.682,"y":0.063},{"panel":"j","kind":"pt","x":0.796,"y":0.076},{"panel":"j","kind":"pt","x":0.859,"y":0.038},{"panel":"j","kind":"pt","x":0.922,"y":0.013},{"panel":"j","kind":"pt","x":0.934,"y":-0.02},{"panel":"j","kind":"pt","x":0.834,"y":-0.038},{"panel":"j","kind":"pt","x":0.682,"y":-0.063},{"panel":"j","kind":"pt","x":0.771,"y":-0.076},{"panel":"j","kind":"pt","x":0.884,"y":-0.101},{"panel":"j","kind":"pt","x":0.934,"y":-0.126},{"panel":"j","kind":"pt","x":0.821,"y":-0.146},{"panel":"j","kind":"pt","x":0.871,"y":-0.164},{"panel":"j","kind":"pt","x":0.771,"y":-0.196},{"panel":"j","kind":"pt","x":0.909,"y":-0.202},{"panel":"j","kind":"pt","x":0.607,"y":-0.164},{"panel":"j","kind":"pt","x":0.695,"y":-0.227},{"panel":"j","kind":"pt","x":0.758,"y":-0.239},{"panel":"j","kind":"pt","x":0.796,"y":-0.277},{"panel":"j","kind":"pt","x":0.846,"y":-0.277},{"panel":"j","kind":"pt","x":0.644,"y":-0.272},{"panel":"j","kind":"pt","x":0.67,"y":-0.302},{"panel":"j","kind":"pt","x":0.581,"y":-0.353},{"panel":"j","kind":"pt","x":0.644,"y":-0.403},{"panel":"j","kind":"pt","x":0.708,"y":-0.353},{"panel":"j","kind":"pt","x":0.517,"y":-0.408},{"panel":"j","kind":"pt","x":0.468,"y":-0.34},{"panel":"j","kind":"pt","x":0.765,"y":-0.353}
]},
"facet":{"field":"panel","type":"nominal","header":{"title":null,"labelOrient":"bottom","labelAnchor":"start","labelAlign":"left","labelFont":"Liberation Serif","labelFontSize":30,"labelColor":"#000","labelPadding":13,
"labelExpr":"datum.value=='a'?'One-dimensional':datum.value=='b'?'Two-dimensional , κ = −1':datum.value=='c'?'Two-dimensional , κ = −0.9':datum.value=='d'?'Two-dimensional , κ = −2/3':datum.value=='e'?'Two-dimensional , κ = −1/3':datum.value=='f'?'Two-dimensional , κ = 0':datum.value=='g'?'Two-dimensional , κ = 1/3':datum.value=='h'?'Two-dimensional , κ = 2/3':datum.value=='i'?'Two-dimensional , κ = 0.9':'Two-dimensional , κ = 0.99'"}},
"columns":2,
"spacing":{"row":0,"column":94},
"spec":{
"width":340,"height":187,
"encoding":{
"x":{"field":"x","type":"quantitative","scale":{"domain":[-1.411,1.155],"nice":false,"zero":false},"axis":null},
"y":{"field":"y","type":"quantitative","scale":{"domain":[-0.55,0.8613],"nice":false,"zero":false},"axis":null}
},
"layer":[
{"transform":[{"filter":"datum.kind=='axis'"}],"mark":{"type":"rule","color":"#8a8a8a","strokeWidth":1,"strokeDash":[6,4,1,4]},"encoding":{"x2":{"field":"x2"}}},
{"transform":[{"filter":"datum.kind=='tick'"}],"mark":{"type":"rule","color":"#444","strokeWidth":1},"encoding":{"y2":{"field":"y2"}}},
{"transform":[{"filter":"datum.kind=='circle'"}],"mark":{"type":"point","shape":"circle","filled":false,"size":17556,"color":"#333","strokeWidth":1,"opacity":1}},
{"transform":[{"filter":"datum.kind=='hsolid'"}],"mark":{"type":"rule","color":"#111","strokeWidth":1.2},"encoding":{"x2":{"field":"x2"}}},
{"transform":[{"filter":"datum.kind=='vsolid'"}],"mark":{"type":"rule","color":"#111","strokeWidth":1.2},"encoding":{"y2":{"field":"y2"}}},
{"transform":[{"filter":"datum.kind=='hdot'"}],"mark":{"type":"rule","color":"#333","strokeWidth":1,"strokeDash":[1,2]},"encoding":{"x2":{"field":"x2"}}},
{"transform":[{"filter":"datum.kind=='vthick'"}],"mark":{"type":"rule","color":"#000","strokeWidth":2.6},"encoding":{"y2":{"field":"y2"}}},
{"transform":[{"filter":"datum.kind=='diag'"}],"mark":{"type":"rule","color":"#111","strokeWidth":1.2},"encoding":{"x2":{"field":"x2"},"y2":{"field":"y2"}}},
{"transform":[{"filter":"datum.kind=='head'"}],"mark":{"type":"point","filled":true,"size":40,"color":"#111","opacity":1},"encoding":{"shape":{"field":"dir","type":"nominal","scale":{"domain":["up","down","left","right"],"range":["triangle-up","triangle-down","triangle-left","triangle-right"]},"legend":null}}},
{"transform":[{"filter":"datum.kind=='headdiag'"}],"mark":{"type":"point","shape":"triangle-up","angle":241,"filled":true,"size":40,"color":"#111","opacity":1}},
{"transform":[{"filter":"datum.kind=='pt'"}],"mark":{"type":"point","shape":"circle","filled":true,"size":7,"color":"#000","opacity":1}},
{"transform":[{"filter":"datum.kind=='bigpt'"}],"mark":{"type":"point","shape":"circle","filled":true,"size":14,"color":"#000","opacity":1}},
{"transform":[{"filter":"datum.kind=='blob'"}],"mark":{"type":"point","shape":"circle","filled":true,"size":11,"color":"#000","opacity":1}},
{"transform":[{"filter":"datum.kind=='textbi'"}],"mark":{"type":"text","font":"Liberation Serif","fontSize":17,"fontWeight":"bold","fontStyle":"italic","color":"#000"},"encoding":{"text":{"field":"label"}}},
{"transform":[{"filter":"datum.kind=='text'"}],"mark":{"type":"text","font":"Liberation Serif","fontSize":14,"color":"#000"},"encoding":{"text":{"field":"label"}}},
{"transform":[{"filter":"datum.kind=='textsans'"}],"mark":{"type":"text","font":"Liberation Sans","fontSize":13,"color":"#000"},"encoding":{"text":{"field":"label"}}}
]
},
"config":{"view":{"stroke":null}}
}
